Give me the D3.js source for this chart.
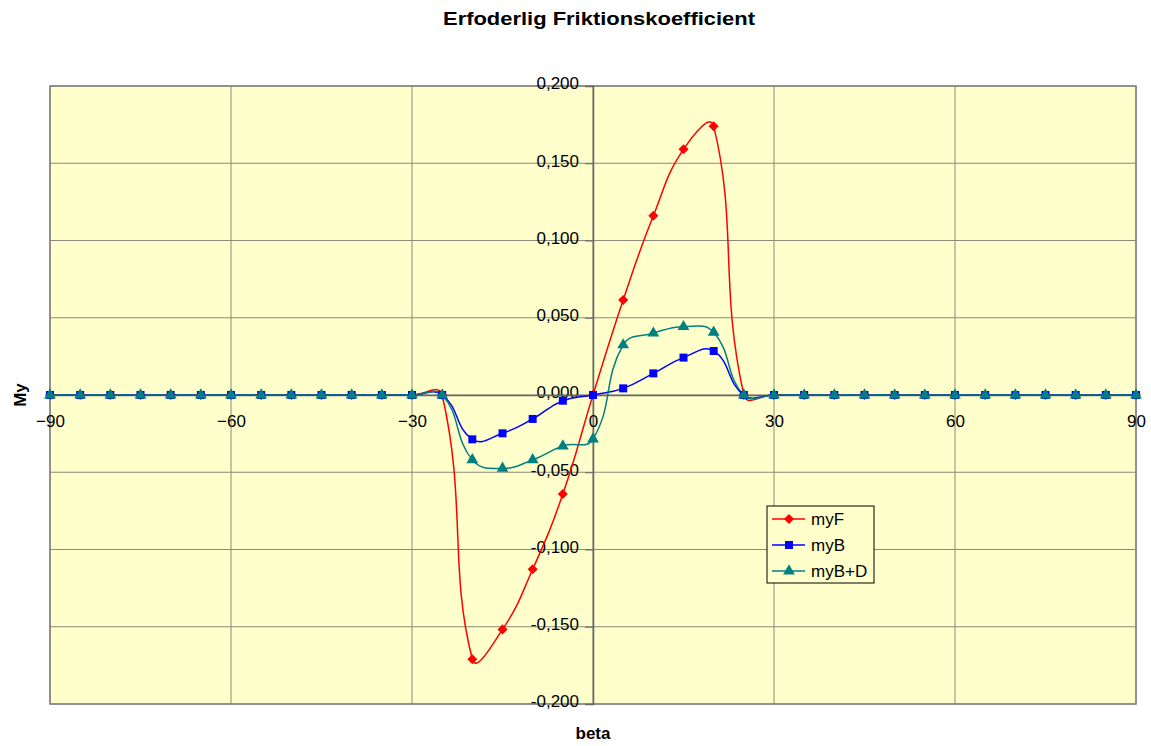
<!DOCTYPE html>
<html><head><meta charset="utf-8">
<script src="https://cdn.jsdelivr.net/npm/d3@7"></script>
<style>body{margin:0;background:#fff;} text{font-family:"Liberation Sans",Arial,sans-serif;}</style>
</head><body>
<svg id="c" width="1151" height="746"></svg>
<script>
const beta = d3.range(-90, 91, 5);
const myF = [0,0,0,0,0,0,0,0,0,0,0,0,0,0,-0.171,-0.1517,-0.1128,-0.0641,0,0.0615,0.116,0.159,0.174,0,0,0,0,0,0,0,0,0,0,0,0,0,0];
const myB = [0,0,0,0,0,0,0,0,0,0,0,0,0,0,-0.0287,-0.0248,-0.0155,-0.0037,0,0.0043,0.014,0.0242,0.0285,0,0,0,0,0,0,0,0,0,0,0,0,0,0];
const myBD = [0,0,0,0,0,0,0,0,0,0,0,0,0,0,-0.042,-0.0475,-0.042,-0.033,-0.0285,0.0324,0.040,0.0442,0.0406,0,0,0,0,0,0,0,0,0,0,0,0,0,0];
const xTicks = [-90,-60,-30,0,30,60,90];
const yTicks = [-0.2,-0.15,-0.1,-0.05,0,0.05,0.1,0.15,0.2];
const seriesNames = ["myF","myB","myB+D"];
const colors = ["#FF0000","#0000FF","#008080"];
const symbols = [d3.symbolDiamond2, d3.symbolSquare, d3.symbolTriangle];
const sizes=[64,64,60];

const svg = d3.select("#c");
const L=50, R=1136, T=86, B=704;
const x = d3.scaleLinear().domain([-90,90]).range([L,R]);
const y = d3.scaleLinear().domain([-0.2,0.2]).range([B,T]);
const fmt = v => (v<0?"-":"") + Math.abs(v).toFixed(3).replace(".",",");

svg.append("rect").attr("x",L).attr("y",T).attr("width",R-L).attr("height",B-T).attr("fill","#FFFFCC");
svg.append("g").selectAll("line").data(xTicks).join("line")
  .attr("x1",d=>x(d)).attr("x2",d=>x(d)).attr("y1",T).attr("y2",B)
  .attr("stroke","#8a8a7a").attr("stroke-width",1);
svg.append("g").selectAll("line").data(yTicks).join("line")
  .attr("y1",d=>y(d)).attr("y2",d=>y(d)).attr("x1",L).attr("x2",R)
  .attr("stroke","#8a8a7a").attr("stroke-width",1);
svg.append("rect").attr("x",L).attr("y",T).attr("width",R-L).attr("height",B-T)
  .attr("fill","none").attr("stroke","#808080").attr("stroke-width",1.5);

const yAxis = d3.axisLeft(y).tickValues(yTicks).tickFormat(fmt).tickSize(8).tickPadding(6);
const gy = svg.append("g").attr("transform",`translate(${x(0)},0)`).call(yAxis);
const xAxis = d3.axisBottom(x).tickValues(xTicks).tickFormat(d3.format("d")).tickSize(0).tickPadding(20);
const gx = svg.append("g").attr("transform",`translate(0,${y(0)})`).call(xAxis);
[gy,gx].forEach(g=>{
  g.select(".domain").attr("stroke","#666").attr("stroke-width",1.5);
  g.selectAll(".tick line").attr("stroke","#666");
  g.selectAll("text").attr("font-size",17).attr("fill","#000").attr("font-family","Liberation Sans, Arial, sans-serif");
});
gy.selectAll("text").attr("dy","0.17em");

const K = 0.45;
function smoothPath(vals){
  const P = vals.map((v,i)=>[x(beta[i]), y(v)]);
  const p = d3.path();
  const dist=(a,b)=>Math.hypot(b[0]-a[0],b[1]-a[1]);
  p.moveTo(P[0][0],P[0][1]);
  for(let i=0;i<P.length-1;i++){
    const p0=P[Math.max(i-1,0)], p1=P[i], p2=P[i+1], p3=P[Math.min(i+2,P.length-1)];
    const d0=dist(p0,p1), d1=dist(p1,p2), d2=dist(p2,p3);
    const f1 = (d0+d1)>0 ? K*d1/(d0+d1) : 0;
    const f2 = (d1+d2)>0 ? K*d1/(d1+d2) : 0;
    const c1=[p1[0]+(p2[0]-p0[0])*f1, p1[1]+(p2[1]-p0[1])*f1];
    const c2=[p2[0]-(p3[0]-p1[0])*f2, p2[1]-(p3[1]-p1[1])*f2];
    p.bezierCurveTo(c1[0],c1[1],c2[0],c2[1],p2[0],p2[1]);
  }
  return p.toString();
}

const data = [myF,myB,myBD];
data.forEach((vals,k)=>{
  svg.append("path").attr("d",smoothPath(vals)).attr("fill","none")
    .attr("stroke",colors[k]).attr("stroke-width",1.5);
});
data.forEach((vals,k)=>{
  svg.append("g").selectAll("path").data(vals).join("path")
    .attr("transform",(d,i)=>`translate(${x(beta[i])},${y(d)})`)
    .attr("d",d3.symbol().type(symbols[k]).size(sizes[k]))
    .attr("fill",colors[k]);
});

const lg = svg.append("g");
lg.append("rect").attr("x",767).attr("y",506).attr("width",107).attr("height",77)
  .attr("fill","#FFFFCC").attr("stroke","#000").attr("stroke-width",1);
seriesNames.forEach((n,k)=>{
  const yy = 519 + k*26;
  lg.append("line").attr("x1",772).attr("x2",805).attr("y1",yy).attr("y2",yy).attr("stroke",colors[k]).attr("stroke-width",1.5);
  lg.append("path").attr("transform",`translate(789,${yy})`).attr("d",d3.symbol().type(symbols[k]).size(sizes[k])).attr("fill",colors[k]);
  lg.append("text").attr("x",811).attr("y",yy+6).attr("font-size",17).text(n);
});

svg.append("text").attr("x",599).attr("y",25).attr("text-anchor","middle").attr("font-size",18).attr("font-weight","bold")
  .attr("textLength",312).attr("lengthAdjust","spacingAndGlyphs").text("Erfoderlig Friktionskoefficient");
svg.append("text").attr("x",593).attr("y",739).attr("text-anchor","middle").attr("font-size",17).attr("font-weight","bold").text("beta");
svg.append("text").attr("transform","translate(26,395) rotate(-90)").attr("text-anchor","middle").attr("font-size",17).attr("font-weight","bold").text("My");
</script>
</body></html>
